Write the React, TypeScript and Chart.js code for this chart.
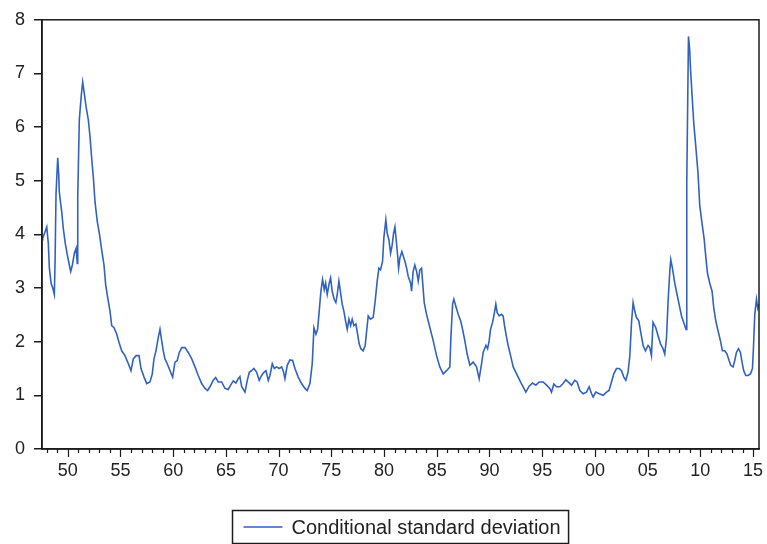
import React, { useEffect, useRef } from 'react';
import { Chart, registerables } from 'chart.js';

Chart.register(...registerables);

// [decimal year, conditional standard deviation]
const sd1940s: [number, number][] = [
  [1947.58, 3.9], [1947.63, 3.93], [1947.85, 4.05], [1948.01, 4.14], [1948.16, 3.83],
  [1948.26, 3.37], [1948.42, 3.09], [1948.58, 3.0], [1948.73, 2.88], [1948.8, 3.5],
  [1948.89, 4.76], [1949.05, 5.43], [1949.15, 5.1], [1949.2, 4.79], [1949.43, 4.42],
  [1949.58, 4.11], [1949.77, 3.83], [1949.96, 3.62],
];
const sd1950s: [number, number][] = [
  [1950.15, 3.43], [1950.28, 3.31], [1950.44, 3.43], [1950.63, 3.65], [1950.79, 3.74],
  [1950.91, 3.46], [1950.95, 4.7], [1951.1, 6.14], [1951.29, 6.6], [1951.42, 6.84],
  [1951.57, 6.63], [1951.73, 6.39], [1951.95, 6.14], [1952.11, 5.83], [1952.28, 5.4],
  [1952.43, 5.06], [1952.59, 4.6], [1952.81, 4.23], [1953.0, 4.02], [1953.22, 3.71],
  [1953.44, 3.43], [1953.6, 3.06], [1953.79, 2.82], [1954.01, 2.57], [1954.17, 2.3],
  [1954.39, 2.26], [1954.65, 2.14], [1954.86, 1.99], [1955.12, 1.83], [1955.43, 1.74],
  [1955.75, 1.59], [1956.0, 1.46], [1956.22, 1.68], [1956.48, 1.74], [1956.76, 1.74],
  [1956.95, 1.5], [1957.24, 1.34], [1957.49, 1.22], [1957.8, 1.25], [1958.02, 1.4],
  [1958.18, 1.68], [1958.37, 1.83], [1958.59, 2.08], [1958.75, 2.23], [1958.91, 2.02],
  [1959.06, 1.83], [1959.22, 1.68], [1959.44, 1.59], [1959.7, 1.46], [1959.95, 1.34],
];
const sd1960s: [number, number][] = [
  [1960.17, 1.62], [1960.39, 1.65], [1960.58, 1.8], [1960.81, 1.89], [1961.12, 1.89],
  [1961.43, 1.8], [1961.76, 1.68], [1962.07, 1.53], [1962.38, 1.37], [1962.7, 1.22],
  [1963.02, 1.13], [1963.27, 1.09], [1963.49, 1.16], [1963.8, 1.28], [1964.03, 1.33],
  [1964.28, 1.25], [1964.6, 1.25], [1964.91, 1.13], [1965.22, 1.11], [1965.45, 1.19],
  [1965.7, 1.27], [1965.95, 1.23], [1966.17, 1.31], [1966.33, 1.35], [1966.5, 1.16],
  [1966.81, 1.06], [1967.03, 1.28], [1967.22, 1.43], [1967.44, 1.46], [1967.66, 1.5],
  [1967.92, 1.43], [1968.16, 1.28], [1968.39, 1.37], [1968.61, 1.43], [1968.8, 1.46],
  [1969.02, 1.28], [1969.18, 1.37], [1969.4, 1.59], [1969.59, 1.5], [1969.81, 1.53],
];
const sd1970s: [number, number][] = [
  [1970.06, 1.5], [1970.29, 1.53], [1970.45, 1.45], [1970.6, 1.31], [1970.82, 1.56],
  [1971.07, 1.66], [1971.33, 1.65], [1971.55, 1.5], [1971.86, 1.34], [1972.18, 1.22],
  [1972.5, 1.13], [1972.71, 1.09], [1972.97, 1.22], [1973.19, 1.59], [1973.35, 2.26],
  [1973.54, 2.14], [1973.7, 2.23], [1973.85, 2.57], [1974.01, 2.94], [1974.17, 3.16],
  [1974.33, 2.97], [1974.46, 3.09], [1974.61, 2.88], [1974.8, 3.09], [1974.93, 3.19],
  [1975.08, 2.94], [1975.27, 2.79], [1975.43, 2.73], [1975.56, 2.88], [1975.72, 3.13],
  [1975.88, 2.91], [1976.03, 2.7], [1976.19, 2.57], [1976.35, 2.39], [1976.51, 2.23],
  [1976.67, 2.42], [1976.83, 2.3], [1976.98, 2.42], [1977.14, 2.3], [1977.33, 2.33],
  [1977.49, 2.14], [1977.64, 1.96], [1977.8, 1.87], [1978.02, 1.83], [1978.21, 1.93],
  [1978.35, 2.2], [1978.5, 2.48], [1978.72, 2.42], [1978.97, 2.45], [1979.16, 2.76],
  [1979.35, 3.13], [1979.51, 3.37], [1979.67, 3.34], [1979.86, 3.5], [1979.98, 3.93],
];
const sd1980s: [number, number][] = [
  [1980.17, 4.27], [1980.3, 4.02], [1980.46, 3.9], [1980.62, 3.65], [1980.77, 3.8],
  [1980.9, 4.02], [1981.03, 4.14], [1981.15, 3.9], [1981.28, 3.62], [1981.38, 3.37],
  [1981.5, 3.56], [1981.69, 3.68], [1981.88, 3.56], [1981.98, 3.5], [1982.14, 3.37],
  [1982.29, 3.22], [1982.52, 3.09], [1982.61, 2.94], [1982.76, 3.31], [1982.92, 3.43],
  [1983.09, 3.31], [1983.24, 3.13], [1983.4, 3.34], [1983.56, 3.37], [1983.65, 3.13],
  [1983.81, 2.73], [1984.03, 2.51], [1984.35, 2.26], [1984.66, 2.02], [1984.98, 1.74],
  [1985.29, 1.53], [1985.61, 1.4], [1985.93, 1.46], [1986.24, 1.53], [1986.34, 2.08],
  [1986.5, 2.7], [1986.62, 2.79], [1986.81, 2.66], [1987.03, 2.51], [1987.26, 2.39],
  [1987.45, 2.23], [1987.66, 2.02], [1987.88, 1.77], [1988.14, 1.56], [1988.45, 1.62],
  [1988.77, 1.53], [1989.02, 1.31], [1989.25, 1.59], [1989.4, 1.8], [1989.66, 1.93],
  [1989.82, 1.87], [1989.97, 2.02],
];
const sd1990s: [number, number][] = [
  [1990.1, 2.23], [1990.29, 2.36], [1990.44, 2.51], [1990.6, 2.7], [1990.73, 2.54],
  [1990.92, 2.48], [1991.14, 2.51], [1991.29, 2.48], [1991.46, 2.26], [1991.62, 2.08],
  [1991.77, 1.93], [1992.0, 1.74], [1992.25, 1.53], [1992.5, 1.43], [1992.72, 1.34],
  [1992.94, 1.25], [1993.19, 1.16], [1993.45, 1.06], [1993.76, 1.17], [1994.08, 1.23],
  [1994.4, 1.19], [1994.71, 1.25], [1995.09, 1.25], [1995.41, 1.19], [1995.72, 1.13],
  [1995.88, 1.06], [1996.1, 1.21], [1996.36, 1.16], [1996.67, 1.16], [1996.98, 1.22],
  [1997.24, 1.29], [1997.46, 1.25], [1997.78, 1.19], [1998.09, 1.28], [1998.31, 1.25],
  [1998.57, 1.09], [1998.88, 1.03], [1999.2, 1.06], [1999.45, 1.16], [1999.68, 1.03],
  [1999.83, 0.97],
];
const sd2000s: [number, number][] = [
  [2000.08, 1.06], [2000.4, 1.03], [2000.78, 1.0], [2001.1, 1.06], [2001.34, 1.09],
  [2001.57, 1.25], [2001.79, 1.4], [2002.04, 1.5], [2002.29, 1.5], [2002.52, 1.46],
  [2002.74, 1.34], [2002.93, 1.28], [2003.14, 1.43], [2003.31, 1.74], [2003.47, 2.36],
  [2003.62, 2.73], [2003.78, 2.57], [2003.94, 2.45], [2004.16, 2.39], [2004.35, 2.17],
  [2004.57, 1.93], [2004.79, 1.83], [2005.04, 1.93], [2005.2, 1.89], [2005.36, 1.74],
  [2005.51, 2.36], [2005.77, 2.26], [2005.99, 2.11], [2006.22, 1.96], [2006.46, 1.87],
  [2006.62, 1.77], [2006.79, 2.08], [2006.94, 2.76], [2007.1, 3.31], [2007.19, 3.53],
  [2007.35, 3.37], [2007.57, 3.09], [2007.79, 2.88], [2007.98, 2.7], [2008.21, 2.48],
  [2008.42, 2.36], [2008.64, 2.23], [2008.71, 4.97], [2008.87, 7.69], [2008.99, 7.43],
  [2009.06, 7.1], [2009.21, 6.6], [2009.37, 6.08], [2009.56, 5.65], [2009.78, 5.13],
  [2009.94, 4.54],
];
const sd2010s: [number, number][] = [
  [2010.16, 4.2], [2010.35, 3.93], [2010.51, 3.59], [2010.67, 3.28], [2010.89, 3.09],
  [2011.11, 2.94], [2011.27, 2.63], [2011.46, 2.39], [2011.68, 2.2], [2011.9, 2.02],
  [2012.09, 1.83], [2012.31, 1.83], [2012.53, 1.77], [2012.72, 1.65], [2012.88, 1.56],
  [2013.1, 1.53], [2013.26, 1.65], [2013.42, 1.8], [2013.61, 1.87], [2013.8, 1.8],
  [2013.95, 1.62], [2014.11, 1.46], [2014.3, 1.37], [2014.52, 1.37], [2014.75, 1.4],
  [2014.94, 1.5], [2015.03, 1.87], [2015.16, 2.51], [2015.32, 2.79], [2015.44, 2.63],
  [2015.53, 2.7],
];

const xMajorYears = [1950, 1955, 1960, 1965, 1970, 1975, 1980, 1985, 1990, 1995, 2000, 2005, 2010, 2015];
const yTickValues = [0, 1, 2, 3, 4, 5, 6, 7, 8];
const seriesLabel = 'Conditional standard deviation';

const FONT = '"Liberation Sans", Arial, sans-serif';
const LINE_COLOR = '#3162C2';
const AXIS_COLOR = '#1c1c1c';
const TEXT_COLOR = '#222222';

export default function App() {
  const ref = useRef<HTMLCanvasElement>(null);

  useEffect(() => {
    if (!ref.current) return;
    const series = [...sd1940s, ...sd1950s, ...sd1960s, ...sd1970s, ...sd1980s, ...sd1990s, ...sd2000s, ...sd2010s];

    const framePlugin = {
      id: 'evFrame',
      afterDraw(chart: any) {
        const { ctx, chartArea: a, scales } = chart;
        const xs = scales.x;
        ctx.save();
        ctx.strokeStyle = AXIS_COLOR;
        ctx.lineWidth = 1.5;
        ctx.strokeRect(a.left, a.top, a.right - a.left, a.bottom - a.top);
        ctx.lineWidth = 1.2;
        for (let yr = Math.ceil(xs.min); yr <= xs.max; yr++) {
          const px = Math.round(xs.getPixelForValue(yr)) + 0.5;
          const len = yr % 5 === 0 ? 8 : 4;
          ctx.beginPath();
          ctx.moveTo(px, a.bottom);
          ctx.lineTo(px, a.bottom + len);
          ctx.stroke();
        }
        ctx.font = `20px ${FONT}`;
        const tw = ctx.measureText(seriesLabel).width;
        const padL = 11, lineW = 39, gap = 9, padR = 8, h = 33;
        const w = padL + lineW + gap + tw + padR;
        const cx = (a.left + a.right) / 2;
        const bx = Math.round(cx - w / 2) + 0.5;
        const by = Math.round(a.bottom + 61) + 0.5;
        ctx.strokeStyle = AXIS_COLOR;
        ctx.lineWidth = 1.5;
        ctx.strokeRect(bx, by, w, h);
        ctx.strokeStyle = LINE_COLOR;
        ctx.lineWidth = 1.5;
        ctx.beginPath();
        ctx.moveTo(bx + padL, by + h / 2);
        ctx.lineTo(bx + padL + lineW, by + h / 2);
        ctx.stroke();
        ctx.fillStyle = TEXT_COLOR;
        ctx.textBaseline = 'middle';
        ctx.textAlign = 'left';
        ctx.fillText(seriesLabel, bx + padL + lineW + gap, by + h / 2 + 1);
        ctx.restore();
      },
    };

    const chart = new Chart(ref.current, {
      type: 'line',
      data: {
        datasets: [
          {
            label: seriesLabel,
            data: series.map(([x, y]) => ({ x, y })),
            borderColor: LINE_COLOR,
            borderWidth: 1.6,
            pointRadius: 0,
            tension: 0,
            fill: false,
          },
        ],
      },
      options: {
        animation: false,
        responsive: false,
        maintainAspectRatio: false,
        layout: { padding: { top: 16, right: 8, bottom: 65, left: 0 } },
        plugins: { legend: { display: false }, tooltip: { enabled: false } },
        scales: {
          x: {
            type: 'linear',
            min: 1947.56,
            max: 2015.56,
            grid: { display: false, drawTicks: true, tickLength: 8 },
            border: { display: true, color: AXIS_COLOR, width: 1.5 },
            ticks: {
              padding: 3,
              color: TEXT_COLOR,
              font: { family: FONT, size: 18 },
              maxRotation: 0,
              autoSkip: false,
              callback: (v: any) => String(Math.round(Number(v)) % 100).padStart(2, '0'),
            },
            afterBuildTicks: (s: any) => {
              s.ticks = xMajorYears.map((v) => ({ value: v }));
            },
            afterFit: (s: any) => {
              s.height = 30;
            },
          },
          y: {
            min: 0,
            max: 8,
            grid: { display: true, drawOnChartArea: false, drawTicks: true, tickLength: 8, tickColor: AXIS_COLOR, lineWidth: 1.5 },
            border: { display: true, color: AXIS_COLOR, width: 1.5 },
            ticks: { padding: 9, color: TEXT_COLOR, font: { family: FONT, size: 18 } },
            afterBuildTicks: (s: any) => {
              s.ticks = yTickValues.map((v) => ({ value: v }));
            },
            afterFit: (s: any) => {
              s.width = 42;
            },
          },
        },
      },
      plugins: [framePlugin],
    });
    return () => chart.destroy();
  }, []);

  return (
    <div style={{ position: 'absolute', left: 0, top: 0, width: 767, height: 544, background: '#fff' }}>
      <canvas ref={ref} width={767} height={544} style={{ display: 'block', width: 767, height: 544 }} />
    </div>
  );
}
